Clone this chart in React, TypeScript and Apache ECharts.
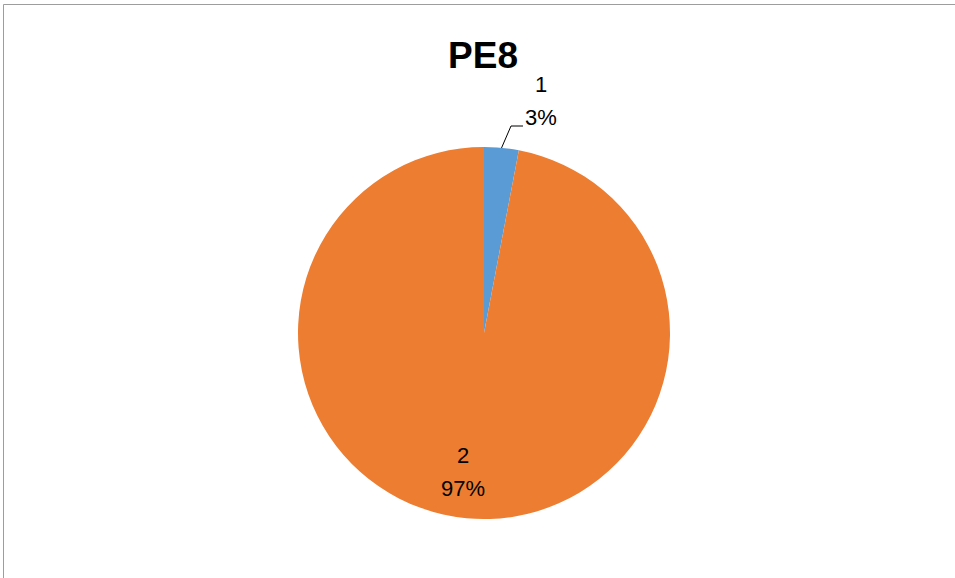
import React, { useEffect, useRef } from "react";
import * as echarts from "echarts";

const titleText = "PE8";
const categories = ["1", "2"];
const values = [3, 97];
const colors = ["#5B9BD5", "#ED7D31"];

export default function App() {
  const ref = useRef<HTMLDivElement>(null);
  useEffect(() => {
    if (!ref.current) return;
    const chart = echarts.init(ref.current, null, { renderer: "svg" });
    const labelPos = [
      { x: 541, y: 101, line: [[501.5, 148], [511, 126], [523, 126]] },
      { x: 463, y: 472, line: null },
    ];
    chart.setOption({
      animation: false,
      backgroundColor: "#ffffff",
      title: {
        text: titleText,
        left: 478,
        textAlign: "center",
        top: 32,
        textStyle: {
          fontFamily: "Liberation Sans, Arial, sans-serif",
          fontSize: 37,
          fontWeight: "bold",
          color: "#000000",
        },
      },
      graphic: [
        {
          type: "rect",
          shape: { x: 3.5, y: 4.5, width: 2000, height: 2000 },
          style: { fill: "none", stroke: "#9d9d9d", lineWidth: 1 },
          silent: true,
        },
      ],
      series: [
        {
          type: "pie",
          center: [484, 333],
          radius: 186,
          startAngle: 90,
          clockwise: true,
          color: colors,
          data: categories.map((c, i) => ({
            name: c,
            value: values[i],
            labelLine: { show: i === 0 },
          })),
          itemStyle: { borderWidth: 0 },
          label: {
            show: true,
            position: "outside",
            formatter: (p: any) => `${p.name}\n${Math.round(p.percent)}%`,
            fontFamily: "Liberation Sans, Arial, sans-serif",
            fontSize: 22,
            lineHeight: 33,
            color: "#000000",
            align: "center",
          },
          labelLine: {
            show: true,
            length: 20,
            length2: 12,
            lineStyle: { color: "#000000", width: 1 },
          },
          labelLayout: (params: any) => {
            const lp = labelPos[params.dataIndex];
            const r: any = {
              x: lp.x,
              y: lp.y,
              align: "center",
              verticalAlign: "middle",
            };
            if (lp.line) r.labelLinePoints = lp.line;
            return r;
          },
        },
      ],
    });
    return () => chart.dispose();
  }, []);
  return (
    <div
      ref={ref}
      style={{ position: "absolute", left: 0, top: 0, width: 955, height: 578 }}
    />
  );
}
